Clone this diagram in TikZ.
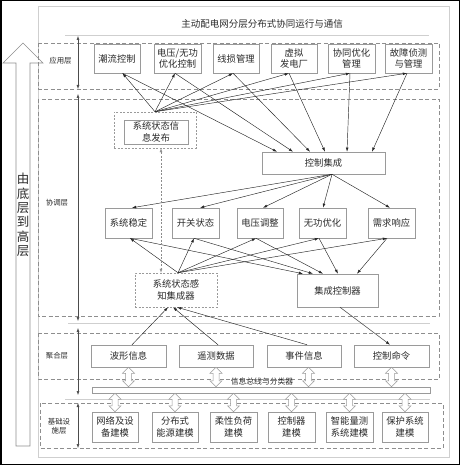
\documentclass[tikz,border=0pt]{standalone}
\usepackage{fontspec}
\newfontfamily\cjk{Noto Sans CJK SC}
\usetikzlibrary{arrows.meta,calc}
\definecolor{boxgray}{HTML}{9A9A9A}
\definecolor{txt}{HTML}{2A2A2A}
\definecolor{laygray}{HTML}{8E8E8E}
\definecolor{sepgray}{HTML}{CFCFCF}
\newcommand{\hollowud}[2]{%
  \draw[hollow] let \p1=(#1), \p2=(#2) in
    (\x1,\y1) -- (\x1+6pt,\y1-6pt) -- (\x1+3pt,\y1-6pt) -- (\x1+3pt,\y2+6pt)
    -- (\x1+6pt,\y2+6pt) -- (\x1,\y2) -- (\x1-6pt,\y2+6pt) -- (\x1-3pt,\y2+6pt)
    -- (\x1-3pt,\y1-6pt) -- (\x1-6pt,\y1-6pt) -- cycle;}
\begin{document}
\begin{tikzpicture}[x=1pt,y=-1pt,
  box/.style={draw=boxgray, fill=white, line width=0.5pt, text=txt,
    font=\cjk\fontsize{9.3}{11.2}\selectfont, align=center, inner sep=0pt},
  dbox/.style={box, dash pattern=on 2pt off 1.5pt},
  layer/.style={draw=laygray, line width=0.6pt, dash pattern=on 4pt off 2.5pt},
  laylbl/.style={text=txt, font=\cjk\fontsize{7.4}{9.5}\selectfont, align=center, inner sep=0pt},
  sep/.style={draw=sepgray, line width=0.6pt},
  arr/.style={-{Latex[length=4.2pt,width=2.8pt]}, line width=0.45pt, black!85},
  darr/.style={{Latex[length=4pt,width=2.8pt]}-{Latex[length=4pt,width=2.8pt]}, line width=0.45pt, black!45, dash pattern=on 2pt off 1.5pt},
  vline/.style={{Latex[length=4pt,width=3pt]}-{Latex[length=4pt,width=3pt]}, line width=0.5pt, black!70},
  hollow/.style={draw=boxgray, fill=white, line width=0.5pt}
]
\useasboundingbox (0,0) rectangle (460,465);
% frames
\draw[black, line width=1.5pt] (0.75,0.75) rectangle (459.25,464.25);
\draw[draw=sepgray, line width=0.6pt] (38,6) rectangle (449,457);
% title
\node[text=txt, font=\cjk\fontsize{9.5}{11}\selectfont, inner sep=0pt] (title) at (262,24) {主动配电网分层分布式协同运行与通信};
\draw[sep] (65,35) -- (429,35);
\draw[sep] (68,323) -- (430,323);
\draw[sep] (65,399) -- (430,399);
% big hollow arrow
\draw[draw=laygray, fill=white, line width=0.6pt] (23,43) -- (43,63) -- (30,63) -- (30,446) -- (16,446) -- (16,63) -- (3,63) -- cycle;
\node[text=txt, font=\cjk\fontsize{12.5}{14.3}\selectfont, align=center, inner sep=0pt] (bigtxt) at (23,215) {由\\底\\层\\到\\高\\层};
% layer boxes
\draw[layer] (38,43) rectangle (439,89);
\draw[layer] (38,99) rectangle (439,316);
\draw[layer] (38,333) rectangle (439,379);
\draw[layer] (40,403) rectangle (443,448);
\node[laylbl] (l1) at (60.5,61) {应用层};
\node[laylbl] (l2) at (57,203) {协调层};
\node[laylbl] (l3) at (57,356) {聚合层};
\node[laylbl] (l4) at (59,426) {基础设\\施层};
% vertical level arrows
\coordinate (v0) at (78,36); \coordinate (v1) at (78,89);
\coordinate (v2) at (78,94); \coordinate (v3) at (78,321);
\coordinate (v4) at (78,328); \coordinate (v5) at (78,395);
\coordinate (v6) at (78,403); \coordinate (v7) at (78,448);
\draw[vline] (v0) -- (v1);
\draw[vline] (v2) -- (v3);
\draw[vline] (v4) -- (v5);
\draw[vline] (v6) -- (v7);
% application layer
\node[box, minimum width=46pt, minimum height=29pt] (a1) at (117,58.5) {潮流控制};
\node[box, minimum width=47pt, minimum height=29pt] (a2) at (177.5,58.5) {电压/无功\\优化控制};
\node[box, minimum width=46pt, minimum height=29pt] (a3) at (236,58.5) {线损管理};
\node[box, minimum width=46pt, minimum height=29pt] (a4) at (294,58.5) {虚拟\\发电厂};
\node[box, minimum width=47pt, minimum height=29pt] (a5) at (351.5,58.5) {协同优化\\管理};
\node[box, minimum width=47pt, minimum height=29pt] (a6) at (408.5,58.5) {故障侦测\\与管理};
% coordination layer
\node[dbox, minimum width=82pt, minimum height=36pt] (pub) at (155,130) {};
\node[box, minimum width=64pt, minimum height=24pt] (pubin) at (156,132) {系统状态信\\息发布};
\node[box, minimum width=123pt, minimum height=22pt] (ctrl) at (323.5,163) {控制集成};
\node[box, minimum width=47pt, minimum height=30pt] (b1) at (128.5,223) {系统稳定};
\node[box, minimum width=47pt, minimum height=30pt] (b2) at (195.5,223) {开关状态};
\node[box, minimum width=46pt, minimum height=30pt] (b3) at (260,223) {电压调整};
\node[box, minimum width=47pt, minimum height=30pt] (b4) at (322.5,223) {无功优化};
\node[box, minimum width=47pt, minimum height=30pt] (b5) at (391.5,223) {需求响应};
\node[dbox, minimum width=82pt, minimum height=34pt] (sense) at (176,290) {系统状态感\\知集成器};
\node[box, minimum width=81pt, minimum height=33pt] (ictrl) at (337.5,290.5) {集成控制器};
% aggregation layer
\node[box, minimum width=75pt, minimum height=22pt] (c1) at (128.5,356) {波形信息};
\node[box, minimum width=74pt, minimum height=22pt] (c2) at (216,356) {遥测数据};
\node[box, minimum width=74pt, minimum height=22pt] (c3) at (304,356) {事件信息};
\node[box, minimum width=75pt, minimum height=22pt] (c4) at (391.5,356) {控制命令};
% bus
\node[box, minimum width=338pt, minimum height=6pt] (bus) at (261,390) {};
\node[text=txt, font=\cjk\fontsize{7.8}{9}\selectfont, inner sep=0pt] (buslbl) at (262,382) {信息总线与分类器};
% infrastructure layer
\node[box, minimum width=46pt, minimum height=30pt] (d1) at (115,427) {网络及设\\备建模};
\node[box, minimum width=46pt, minimum height=30pt] (d2) at (175,427) {分布式\\能源建模};
\node[box, minimum width=47pt, minimum height=30pt] (d3) at (233.5,427) {柔性负荷\\建模};
\node[box, minimum width=47pt, minimum height=30pt] (d4) at (291.5,427) {控制器\\建模};
\node[box, minimum width=47pt, minimum height=30pt] (d5) at (349.5,427) {智能量测\\系统建模};
\node[box, minimum width=46pt, minimum height=30pt] (d6) at (405,427) {保护系统\\建模};
% --- connectors: publish -> applications
\coordinate (t1) at ([xshift=5.5pt]a1.south);
\coordinate (t2) at ([xshift=-2.5pt]a2.south);
\coordinate (t3) at ([xshift=-3pt]a3.south);
\coordinate (t4) at ([xshift=-5pt]a4.south);
\coordinate (t5) at ([xshift=-1.5pt]a5.south);
\coordinate (t6) at ([xshift=-1.5pt]a6.south);
\foreach \i in {1,...,6} \draw[arr] (pub.north) -- (t\i);
% applications -> control integration
\coordinate (u1) at ([xshift=-46.5pt]ctrl.north);
\coordinate (u2) at ([xshift=-30.5pt]ctrl.north);
\coordinate (u3) at ([xshift=-13.5pt]ctrl.north);
\coordinate (u4) at ([xshift=1.5pt]ctrl.north);
\coordinate (u5) at ([xshift=23.5pt]ctrl.north);
\coordinate (u6) at ([xshift=48.5pt]ctrl.north);
\foreach \i in {1,...,6} \draw[arr] (t\i) -- (u\i);
% control integration -> second row
\coordinate (cs) at ([xshift=8.5pt]ctrl.south);
\draw[arr] (cs) -- ([xshift=3.5pt]b1.north);
\draw[arr] (cs) -- ([xshift=4.5pt]b2.north);
\draw[arr] (cs) -- ([xshift=3pt]b3.north);
\draw[arr] (cs) -- ([xshift=0.5pt]b4.north);
\draw[arr] (cs) -- ([xshift=-1.5pt]b5.north);
% sensing -> second row, second row -> integrated controller
\coordinate (ss) at ([xshift=2pt]sense.north);
\coordinate (w1) at ([xshift=1.5pt]b1.south);
\coordinate (w2) at ([xshift=-1.5pt]b2.south);
\coordinate (w3) at ([xshift=-4pt]b3.south);
\coordinate (w4) at ([xshift=-3.5pt]b4.south);
\coordinate (w5) at ([xshift=-4.5pt]b5.south);
\foreach \i in {1,...,5} \draw[arr] (ss) -- (w\i);
\draw[arr] (w1) -- ([xshift=-34.5pt]ictrl.north);
\draw[arr] (w2) -- ([xshift=-24.5pt]ictrl.north);
\draw[arr] (w3) -- ([xshift=-14.5pt]ictrl.north);
\draw[arr] (w4) -- ([xshift=0.5pt]ictrl.north);
\draw[arr] (w5) -- ([xshift=19.5pt]ictrl.north);
% dashed link publish <-> sensing
\coordinate (pd) at ([xshift=6pt]pub.south);
\draw[darr] (pd) -- (pd |- sense.north);
% aggregation -> sensing
\draw[arr] ([xshift=3.5pt]c1.north) -- ([xshift=-8pt]sense.south);
\draw[arr] ([xshift=2pt]c2.north) -- ([xshift=-3pt]sense.south);
\draw[arr] ([xshift=3pt]c3.north) -- ([xshift=1pt]sense.south);
% integrated controller -> control command
\draw[arr] ([xshift=2.5pt]ictrl.south) -- ([xshift=-1.5pt]c4.north);
% hollow double arrows
\coordinate (h1) at (c1.south); \coordinate (h2) at (c2.south);
\coordinate (h3) at ([xshift=4.5pt]c3.south); \coordinate (h4) at (c4.south);
\foreach \i in {1,...,4} \hollowud{h\i}{h\i |- bus.north};
\foreach \i in {1,...,6} \hollowud{d\i.north |- bus.south}{d\i.north};
\end{tikzpicture}
\end{document}
